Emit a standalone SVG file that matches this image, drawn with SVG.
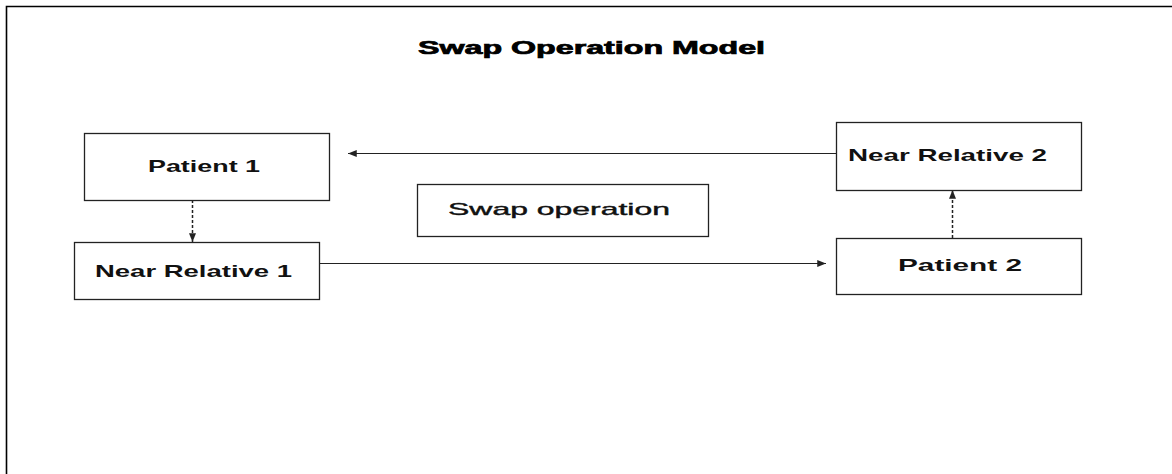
<svg xmlns="http://www.w3.org/2000/svg" width="1172" height="474" viewBox="0 0 1172 474">
<style>
.box{fill:#fff;stroke:#222;stroke-width:1.3}
.lbl{font-family:"Liberation Sans",Arial,sans-serif;font-weight:bold;font-size:17px;fill:#111}
.title{font-family:"Liberation Sans",Arial,sans-serif;font-weight:bold;font-size:18px;fill:#000;stroke:#000;stroke-width:0.7}
.con{fill:none;stroke:#222;stroke-width:1.1}
.dash{stroke-dasharray:3 2;stroke-width:1.5}
</style>
<defs>
<marker id="ah" viewBox="0 0 10 8" refX="10" refY="4" markerWidth="9" markerHeight="7" markerUnits="userSpaceOnUse" orient="auto">
<path d="M0,0 L10,4 L0,8 Z" fill="#222"/>
</marker>
</defs>
<rect width="1172" height="474" fill="#fff"/>
<path d="M6.5,474 V6.5 H1172" fill="none" stroke="#000" stroke-width="1.6"/>
<text class="title" x="418" y="54" textLength="347" lengthAdjust="spacingAndGlyphs">Swap Operation Model</text>
<g id="connectors">
<line class="con" x1="836" y1="153.5" x2="348" y2="153.5" marker-end="url(#ah)"/>
<line class="con" x1="319" y1="263.5" x2="826" y2="263.5" marker-end="url(#ah)"/>
<line class="con dash" x1="192.5" y1="200" x2="192.5" y2="242" marker-end="url(#ah)"/>
<line class="con dash" x1="952.5" y1="238" x2="952.5" y2="190" marker-end="url(#ah)"/>
</g>
<g id="patient1">
<rect class="box" x="84.5" y="133.5" width="245" height="67"/>
<text class="lbl" x="148" y="172" textLength="112" lengthAdjust="spacingAndGlyphs">Patient 1</text>
</g>
<g id="nearRelative1">
<rect class="box" x="74.5" y="242.5" width="245" height="57"/>
<text class="lbl" x="95" y="277" textLength="197" lengthAdjust="spacingAndGlyphs">Near Relative 1</text>
</g>
<g id="swapOperation">
<rect class="box" x="417.5" y="184.5" width="291" height="52"/>
<text class="lbl" x="448" y="215" textLength="222" lengthAdjust="spacingAndGlyphs" style="font-weight:normal;stroke:#111;stroke-width:0.4">Swap operation</text>
</g>
<g id="nearRelative2">
<rect class="box" x="836.5" y="122.5" width="245" height="68"/>
<text class="lbl" x="848" y="161" textLength="199" lengthAdjust="spacingAndGlyphs">Near Relative 2</text>
</g>
<g id="patient2">
<rect class="box" x="836.5" y="238.5" width="245" height="56"/>
<text class="lbl" x="898" y="271" textLength="124" lengthAdjust="spacingAndGlyphs">Patient 2</text>
</g>
</svg>
